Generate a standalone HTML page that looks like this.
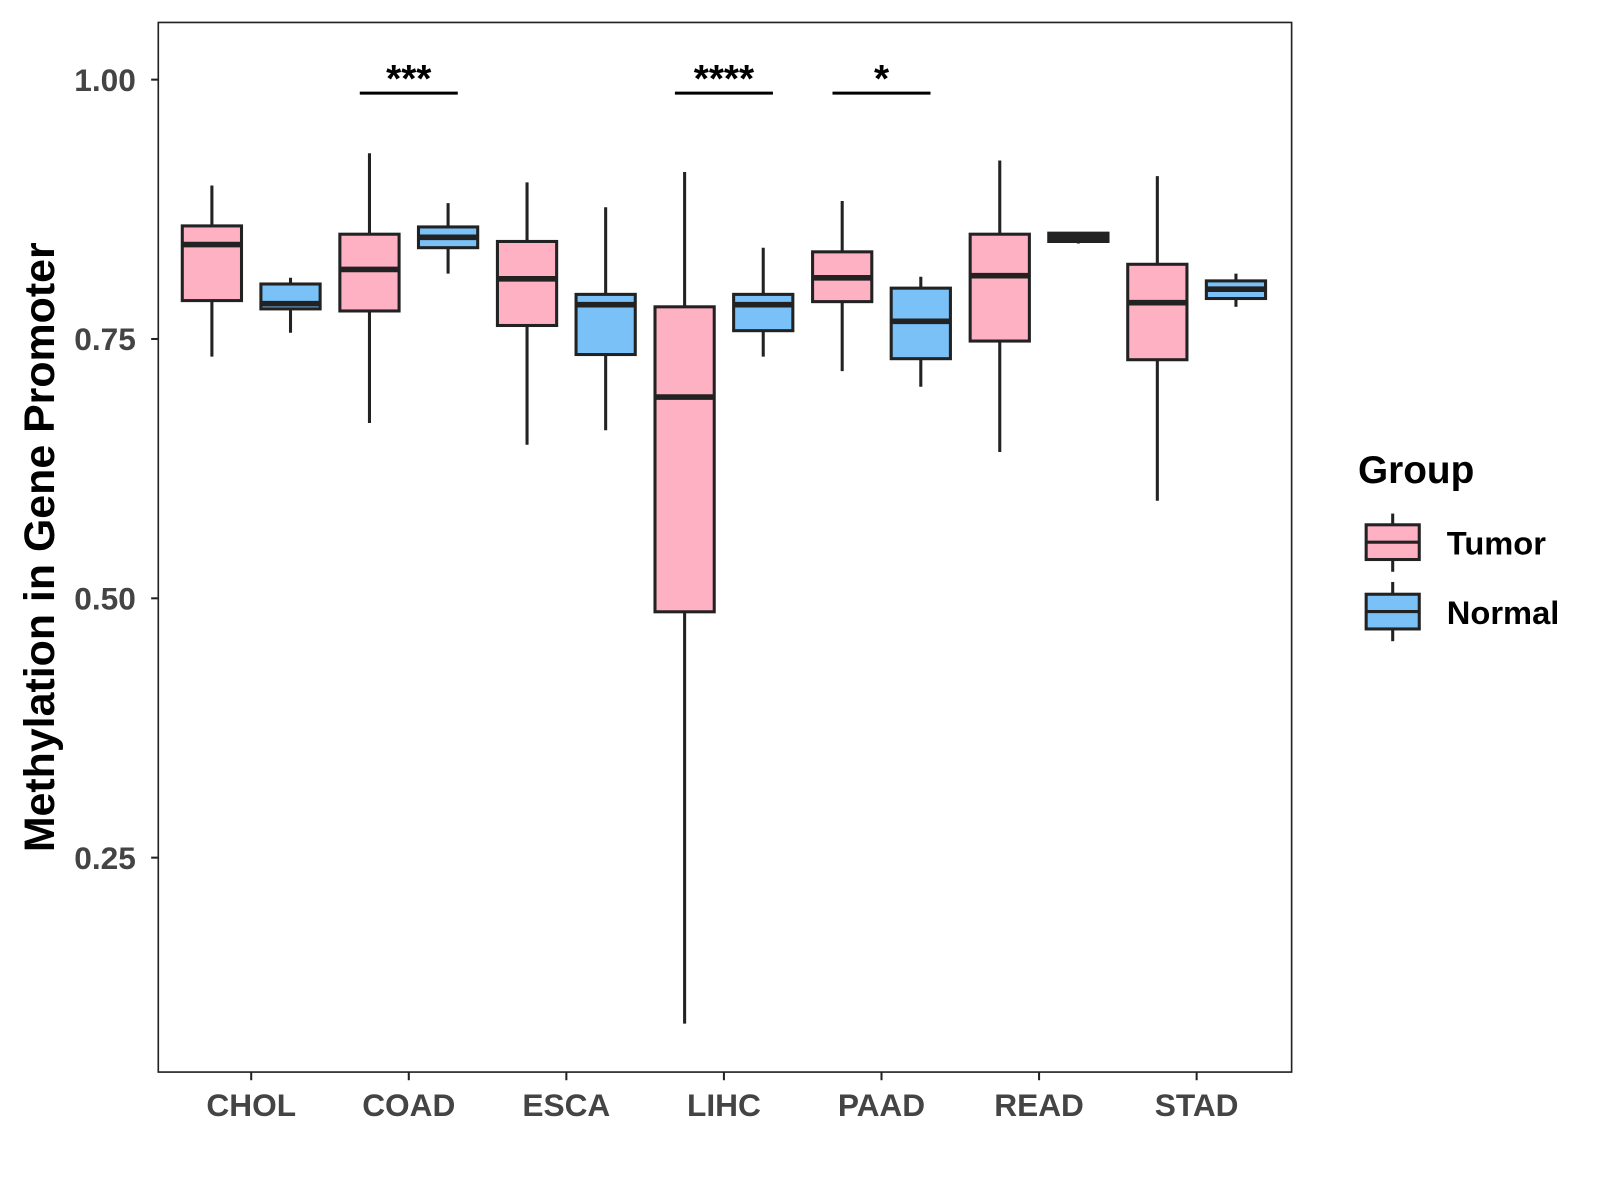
<!DOCTYPE html>
<html><head><meta charset="utf-8"><style>
html,body{margin:0;padding:0;background:#fff;}
svg{display:block;font-family:"Liberation Sans",Arial,sans-serif;font-weight:bold;}
</style></head><body>
<svg id="chart" width="1600" height="1200" viewBox="0 0 1567 1175.3" xmlns="http://www.w3.org/2000/svg">
<rect x="155" y="22" width="1110" height="1028" fill="#fff" stroke="#222" stroke-width="1.6"/>
<g id="marks"></g>
<text transform="translate(53,536) rotate(-90)" text-anchor="middle" font-size="42" fill="#000">Methylation in Gene Promoter</text>
<g>
<text x="1330" y="473" font-size="38" fill="#000">Group</text>
<line x1="1364" y1="503" x2="1364" y2="560" stroke="#222" stroke-width="3"/>
<rect x="1338" y="514" width="52" height="34" fill="#FFB1C4" stroke="#222" stroke-width="3"/>
<line x1="1338" y1="531" x2="1390" y2="531" stroke="#222" stroke-width="3"/>
<text x="1417" y="543" font-size="32" fill="#000">Tumor</text>
<line x1="1364" y1="570" x2="1364" y2="628" stroke="#222" stroke-width="3"/>
<rect x="1338" y="582" width="52" height="34" fill="#79C1F7" stroke="#222" stroke-width="3"/>
<line x1="1338" y1="599" x2="1390" y2="599" stroke="#222" stroke-width="3"/>
<text x="1417" y="611" font-size="32" fill="#000">Normal</text>
</g>
</svg>
<script>
const categories=["CHOL","COAD","ESCA","LIHC","PAAD","READ","STAD"];
const tumorStats=[[0.733,0.787,0.841,0.859,0.898],[0.669,0.777,0.817,0.851,0.929],[0.648,0.763,0.808,0.844,0.901],[0.090,0.487,0.694,0.781,0.911],[0.719,0.786,0.809,0.834,0.883],[0.641,0.748,0.811,0.851,0.922],[0.594,0.730,0.785,0.822,0.907]];
const normalStats=[[0.756,0.779,0.784,0.803,0.809],[0.813,0.838,0.848,0.858,0.881],[0.662,0.735,0.783,0.793,0.877],[0.733,0.758,0.783,0.793,0.838],[0.704,0.731,0.767,0.799,0.810],[0.842,0.844,0.848,0.852,0.853],[0.781,0.789,0.798,0.806,0.813]];
const yTicks=[0.25,0.50,0.75,1.00];
const yTickLabels=["0.25","0.50","0.75","1.00"];
const sigCategories=["COAD","LIHC","PAAD"];
const sigLabels=["***","****","*"];
const sigLevel=0.987;

const NS="http://www.w3.org/2000/svg";
const g=document.getElementById('marks');
const Y=v=>78+(1-v)*1016;
const X=i=>246+i*154.33;
function el(t,a,p){const e=document.createElementNS(NS,t);for(const k in a)e.setAttribute(k,a[k]);(p||g).appendChild(e);return e;}
yTicks.forEach((v,i)=>{
  const l=el('line',{x1:148,x2:155,y1:Y(v),y2:Y(v),stroke:'#222','stroke-width':2});
  
  
  const t=el('text',{x:133,y:Y(v)+11,'text-anchor':'end','font-size':31,fill:'#444'});
  t.textContent=yTickLabels[i];
  
  
});
categories.forEach((c,i)=>{
  const l=el('line',{x1:X(i),x2:X(i),y1:1050,y2:1058,stroke:'#222','stroke-width':2});
  
  
  const t=el('text',{x:X(i),y:1093,'text-anchor':'middle','font-size':31,fill:'#444'});
  t.textContent=c;
  
  
  [[tumorStats[i],-38.5,'#FFB1C4','tumor'],[normalStats[i],38.5,'#79C1F7','normal']].forEach(([s,off,col,nm])=>{
    const cx=X(i)+off,w=58;
    const grp=el('g',{});
    
    
    el('line',{x1:cx,x2:cx,y1:Y(s[4]),y2:Y(s[0]),stroke:'#222','stroke-width':3},grp);
    el('rect',{x:cx-w/2,y:Y(s[3]),width:w,height:Math.max(1,Y(s[1])-Y(s[3])),fill:col,stroke:'#222','stroke-width':3},grp);
    el('line',{x1:cx-w/2,x2:cx+w/2,y1:Y(s[2]),y2:Y(s[2]),stroke:'#222','stroke-width':5.5},grp);
  });
});
sigCategories.forEach((c,k)=>{
  const i=categories.indexOf(c);
  const l=el('line',{x1:X(i)-48,x2:X(i)+48,y1:Y(sigLevel),y2:Y(sigLevel),stroke:'#000','stroke-width':3});
  
  
  const t=el('text',{x:X(i),y:Y(sigLevel)-1,'text-anchor':'middle','font-size':38,fill:'#000'});
  t.textContent=sigLabels[k];
  
  
});
</script>
</body></html>
